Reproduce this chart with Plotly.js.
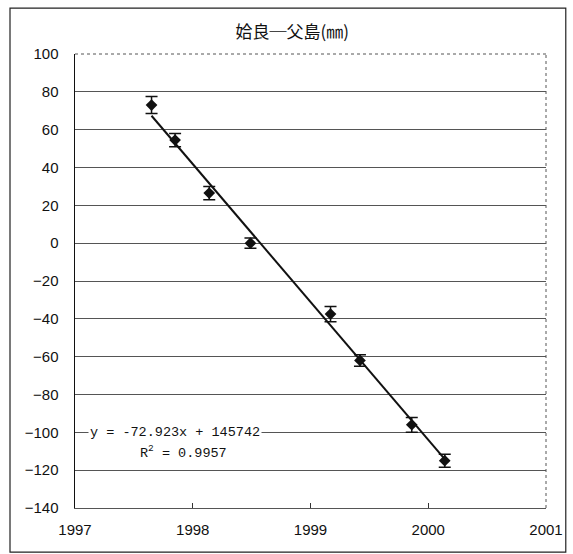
<!DOCTYPE html>
<html>
<head>
<meta charset="utf-8">
<script src="https://cdn.plot.ly/plotly-3.0.1.min.js"></script>
<style>html,body{margin:0;padding:0;background:#fff;}#chart{width:573px;height:554px;}</style>
</head>
<body>
<div id="chart"></div>
<script>
// Data
const years = [1997.65, 1997.85, 1998.14, 1998.49, 1999.17, 1999.42, 1999.86, 2000.14];
const values = [73.0, 54.5, 26.5, 0.0, -37.5, -62.0, -96.0, -115.0];
const errors = [4.5, 3.5, 3.5, 2.7, 4.0, 3.0, 3.9, 3.4];
const slope = -72.923;
const intercept = 145742;
const titleText = "姶良\u2500父島(㎜)";
const eqText = "y = -72.923x + 145742";
const r2Text = "R<sup>2</sup> = 0.9957";
const yTicks = [100, 80, 60, 40, 20, 0, -20, -40, -60, -80, -100, -120, -140];
const xTicks = [1997, 1998, 1999, 2000, 2001];

const trendX = [years[0], years[years.length - 1]];
const trendY = trendX.map(x => slope * x + intercept);

const traces = [
  {
    x: trendX, y: trendY, mode: 'lines', type: 'scatter',
    line: {color: '#111', width: 2}, hoverinfo: 'skip', showlegend: false
  },
  {
    x: years, y: values, mode: 'markers', type: 'scatter',
    marker: {symbol: 'diamond', size: 9, color: '#111'},
    error_y: {type: 'data', array: errors, visible: true, color: '#111', thickness: 1.5, width: 6},
    showlegend: false
  }
];

const layout = {
  width: 573, height: 554,
  margin: {l: 75, r: 27, t: 54, b: 46},
  paper_bgcolor: '#fff', plot_bgcolor: '#fff',
  font: {family: 'Liberation Sans, Arial, sans-serif', color: '#111', size: 15},
  title: {
    text: titleText,
    font: {family: 'Noto Sans CJK JP', size: 17, color: '#111'},
    x: 0.51, xanchor: 'center', y: 1 - 32 / 554, yanchor: 'middle'
  },
  xaxis: {
    range: [1997, 2001], tickvals: xTicks, ticktext: xTicks.map(String),
    showgrid: false, zeroline: false,
    showline: true, linecolor: '#555', linewidth: 1,
    ticks: 'inside', ticklen: 5, tickcolor: '#333',
    ticklabelstandoff: 8,
    tickfont: {family: 'Liberation Sans, Arial, sans-serif', size: 15, color: '#111'}
  },
  yaxis: {
    range: [-140, 100], tickvals: yTicks, ticktext: yTicks.map(v => v < 0 ? '\u2212' + Math.abs(v) : String(v)),
    showgrid: true, gridcolor: '#555', gridwidth: 1, zeroline: false,
    showline: true, linecolor: '#111', linewidth: 1.5,
    ticks: '', ticklabelstandoff: 12,
    tickfont: {family: 'Liberation Sans, Arial, sans-serif', size: 15, color: '#111'}
  },
  shapes: [
    {type: 'line', xref: 'paper', yref: 'paper', x0: 0, x1: 1, y0: 1, y1: 1, line: {color: '#fff', width: 2}},
    {type: 'line', xref: 'paper', yref: 'paper', x0: 0, x1: 1, y0: 1, y1: 1, line: {color: '#555', width: 1, dash: 'dot'}},
    {type: 'line', xref: 'paper', yref: 'paper', x0: 1, x1: 1, y0: 0, y1: 1, line: {color: '#555', width: 1, dash: 'dot'}},
    {type: 'rect', xref: 'paper', yref: 'paper', x0: -0.138, x1: 1.042, y0: -0.097, y1: 1.101, line: {color: '#222', width: 1.2}}
  ],
  annotations: [
    {
      xref: 'paper', yref: 'y', x: (88 - 75) / 471, y: -100, xanchor: 'left', yanchor: 'middle',
      text: eqText, showarrow: false, bgcolor: '#fff',
      font: {family: 'Liberation Mono, DejaVu Sans Mono, monospace', size: 13.5, color: '#111'}
    },
    {
      xref: 'paper', yref: 'y', x: (138 - 75) / 471, y: -110.5, xanchor: 'left', yanchor: 'middle',
      text: r2Text, showarrow: false, bgcolor: '#fff',
      font: {family: 'Liberation Mono, DejaVu Sans Mono, monospace', size: 13.5, color: '#111'}
    }
  ]
};

Plotly.newPlot('chart', traces, layout, {displayModeBar: false, staticPlot: true});
</script>
</body>
</html>
